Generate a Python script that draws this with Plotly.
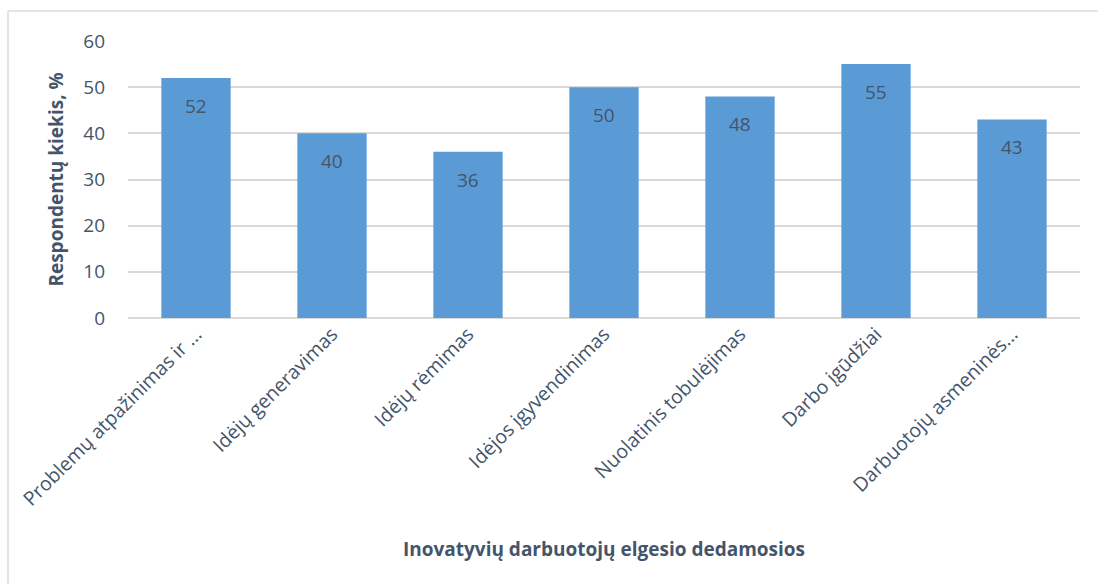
import plotly.graph_objects as go

categories = [
    "Problemų atpažinimas ir ...",
    "Idėjų generavimas",
    "Idėjų rėmimas",
    "Idėjos įgyvendinimas",
    "Nuolatinis tobulėjimas",
    "Darbo įgūdžiai",
    "Darbuotojų asmeninės...",
]
values = [52, 40, 36, 50, 48, 55, 43]
y_ticks = [0, 10, 20, 30, 40, 50, 60]

TEXT = "#44546a"
FONT = "Open Sans"

W, H = 1098, 584
ML, MR, MT, MB = 128, 18, 41, 266
pw = W - ML - MR
ph = H - MT - MB

fig = go.Figure()
fig.add_trace(go.Bar(
    x=categories, y=values,
    marker=dict(color="#5b9bd5", line=dict(width=0)),
    width=0.51,
    hoverinfo="x+y",
))

for c, v in zip(categories, values):
    fig.add_annotation(x=c, y=v, text=str(v), showarrow=False,
                       yanchor="middle", yshift=-28,
                       font=dict(family=FONT, size=19, color=TEXT))

# chart frame (top and left edges visible)
fx = (8 - ML) / pw
fy = 1 + (MT - 11) / ph
fig.add_shape(type="line", xref="paper", yref="paper", x0=fx, x1=1.2, y0=fy, y1=fy,
              line=dict(color="#d9dde3", width=1.5))
fig.add_shape(type="line", xref="paper", yref="paper", x0=fx, x1=fx, y0=fy, y1=-1.5,
              line=dict(color="#d9dde3", width=1.5))

fig.update_layout(
    width=W, height=H,
    margin=dict(l=ML, r=MR, t=MT, b=MB, autoexpand=False),
    paper_bgcolor="white", plot_bgcolor="white",
    showlegend=False,
    font=dict(family=FONT, color=TEXT, size=19),
    xaxis=dict(
        type="category", tickangle=-45,
        tickfont=dict(family=FONT, size=19.5, color=TEXT),
        showgrid=False, showline=False, ticks="",
        title=dict(text="<b>Inovatyvių darbuotojų elgesio dedamosios</b>",
                   font=dict(family=FONT, size=19, color=TEXT), standoff=32),
    ),
    yaxis=dict(
        range=[0, 60], tickvals=y_ticks,
        tickfont=dict(family=FONT, size=19, color=TEXT),
        showgrid=True, gridcolor="#d9d9d9", gridwidth=1.5,
        zeroline=True, zerolinecolor="#d9d9d9", zerolinewidth=1.5,
        showline=False, ticks="", ticklabelstandoff=22,
        title=dict(text="<b>Respondentų kiekis, %</b>",
                   font=dict(family=FONT, size=19, color=TEXT), standoff=14),
    ),
)

fig.write_html("out.html")
